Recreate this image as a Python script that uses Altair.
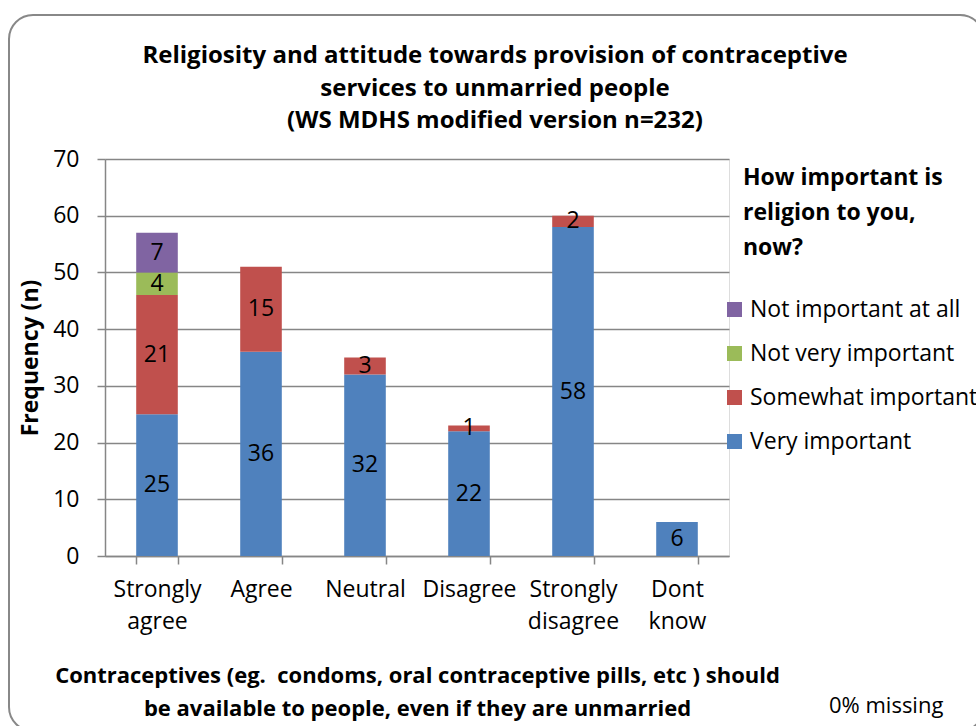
import altair as alt
import pandas as pd

# Response categories on the x axis
categories = ["Strongly agree", "Agree", "Neutral", "Disagree", "Strongly disagree", "Dont know"]

# Religiosity groups, listed top-to-bottom as in the legend
groups = ["Not important at all", "Not very important", "Somewhat important", "Very important"]
colors = ["#8064A2", "#9BBB59", "#C0504D", "#4F81BD"]

# Counts per category for each group
very_important = [25, 36, 32, 22, 58, 6]
somewhat_important = [21, 15, 3, 1, 2, 0]
not_very_important = [4, 0, 0, 0, 0, 0]
not_important_at_all = [7, 0, 0, 0, 0, 0]

title_lines = ["Religiosity and attitude towards provision of contraceptive",
               "services to unmarried people",
               "(WS MDHS modified version n=232)"]
x_title_lines = ["Contraceptives (eg.\u00a0 condoms, oral contraceptive pills, etc ) should",
                 "be available to people, even if they are unmarried"]
legend_title_lines = ["How important is", "religion to you,", "now?"]

series = {
    "Very important": very_important,
    "Somewhat important": somewhat_important,
    "Not very important": not_very_important,
    "Not important at all": not_important_at_all,
}
stack_rank = {"Very important": 0, "Somewhat important": 1,
              "Not very important": 2, "Not important at all": 3}

rows = []
for g, vals in series.items():
    for c, v in zip(categories, vals):
        if v > 0:
            rows.append({"category": c, "group": g, "count": v, "rank": stack_rank[g]})
df = pd.DataFrame(rows)

FONT = "Open Sans"
FS = 23          # regular text size
W, H = 624, 397
LEFT, TOP = 105, 159
GREY = "#868686"

x_enc = alt.X(
    "category:N",
    sort=categories,
    scale=alt.Scale(paddingInner=0.6, paddingOuter=0.3),
    axis=alt.Axis(
        title=x_title_lines,
        titleFont=FONT, titleFontSize=22, titleFontWeight="bold", titleColor="#000000",
        titleX=W / 2, titleY=109, titleBaseline="top", titleAlign="center",
        titleLineHeight=33,
        labelAngle=0, labelFont=FONT, labelFontSize=FS, labelColor="#000000",
        labelExpr="split(datum.label, ' ')", labelLineHeight=32, labelPadding=14,
        tickBand="extent", tickSize=8, tickColor=GREY, domainColor=GREY,
        tickWidth=1.5, domainWidth=1.5,
    ),
)

bars = alt.Chart(df).mark_bar().encode(
    x=x_enc,
    y=alt.Y(
        "count:Q",
        stack="zero",
        scale=alt.Scale(domain=[0, 70]),
        axis=alt.Axis(
            title="Frequency (n)", titleFont=FONT, titleFontSize=23, titleFontWeight="bold",
            titleColor="#000000", titleX=-75, titleY=H / 2, titleAngle=270,
            titleAlign="center", titleBaseline="middle",
            values=list(range(0, 71, 10)), labelFont=FONT, labelFontSize=FS,
            labelColor="#000000", labelPadding=18,
            tickSize=8, tickColor=GREY, domainColor=GREY,
            tickWidth=1.5, domainWidth=1.5,
            grid=True, gridColor=GREY, gridWidth=1.5,
        ),
    ),
    color=alt.Color(
        "group:N",
        scale=alt.Scale(domain=groups, range=colors),
        legend=alt.Legend(
            title=None, orient="none", legendX=618, legendY=139,
            symbolType="square", symbolSize=225, symbolStrokeWidth=0,
            labelFont=FONT, labelFontSize=FS, labelColor="#000000",
            rowPadding=20, labelOffset=4, labelLimit=400,
        ),
    ),
    order=alt.Order("rank:Q", sort="ascending"),
)

labels = alt.Chart(df).transform_stack(
    stack="count", groupby=["category"], as_=["y0", "y1"],
    sort=[alt.SortField("rank", order="ascending")],
).transform_calculate(
    mid="(datum.y0 + datum.y1) / 2"
).mark_text(font=FONT, fontSize=FS, color="#000000").encode(
    x=alt.X("category:N", sort=categories),
    y=alt.Y("mid:Q"),
    text="count:Q",
)

one = pd.DataFrame({"t": [0]})

chart_title = alt.Chart(one).mark_text(
    font=FONT, fontSize=24, fontWeight="bold", align="center", baseline="middle",
    lineHeight=32.5, color="#000000",
).encode(
    x=alt.value(495 - LEFT),
    y=alt.value(56 - TOP),
    text=alt.value(title_lines),
)

legend_title = alt.Chart(one).mark_text(
    font=FONT, fontSize=23, fontWeight="bold", align="left", baseline="middle",
    lineHeight=35, color="#000000",
).encode(
    x=alt.value(743 - LEFT),
    y=alt.value(178 - TOP),
    text=alt.value(legend_title_lines),
)

missing = alt.Chart(one).mark_text(
    font=FONT, fontSize=22, align="left", baseline="middle", color="#000000",
).encode(
    x=alt.value(829 - LEFT),
    y=alt.value(706 - TOP),
    text=alt.value("0% missing"),
)

frame = alt.Chart(one).mark_rect(
    fill=None, stroke="#888888", strokeWidth=2, cornerRadius=24,
).encode(
    x=alt.value(9 - LEFT), x2=alt.value(984 - LEFT),
    y=alt.value(15 - TOP), y2=alt.value(731 - TOP),
)

chart = alt.layer(frame, bars, labels, chart_title, legend_title, missing).properties(
    width=W,
    height=H,
    autosize=alt.AutoSizeParams(type="none"),
    padding={"left": LEFT, "top": TOP, "right": 976 - LEFT - W, "bottom": 726 - TOP - H},
).configure_view(stroke=None).configure(background="#ffffff")

chart.save("out.html", embed_options={"renderer": "svg", "actions": False})
